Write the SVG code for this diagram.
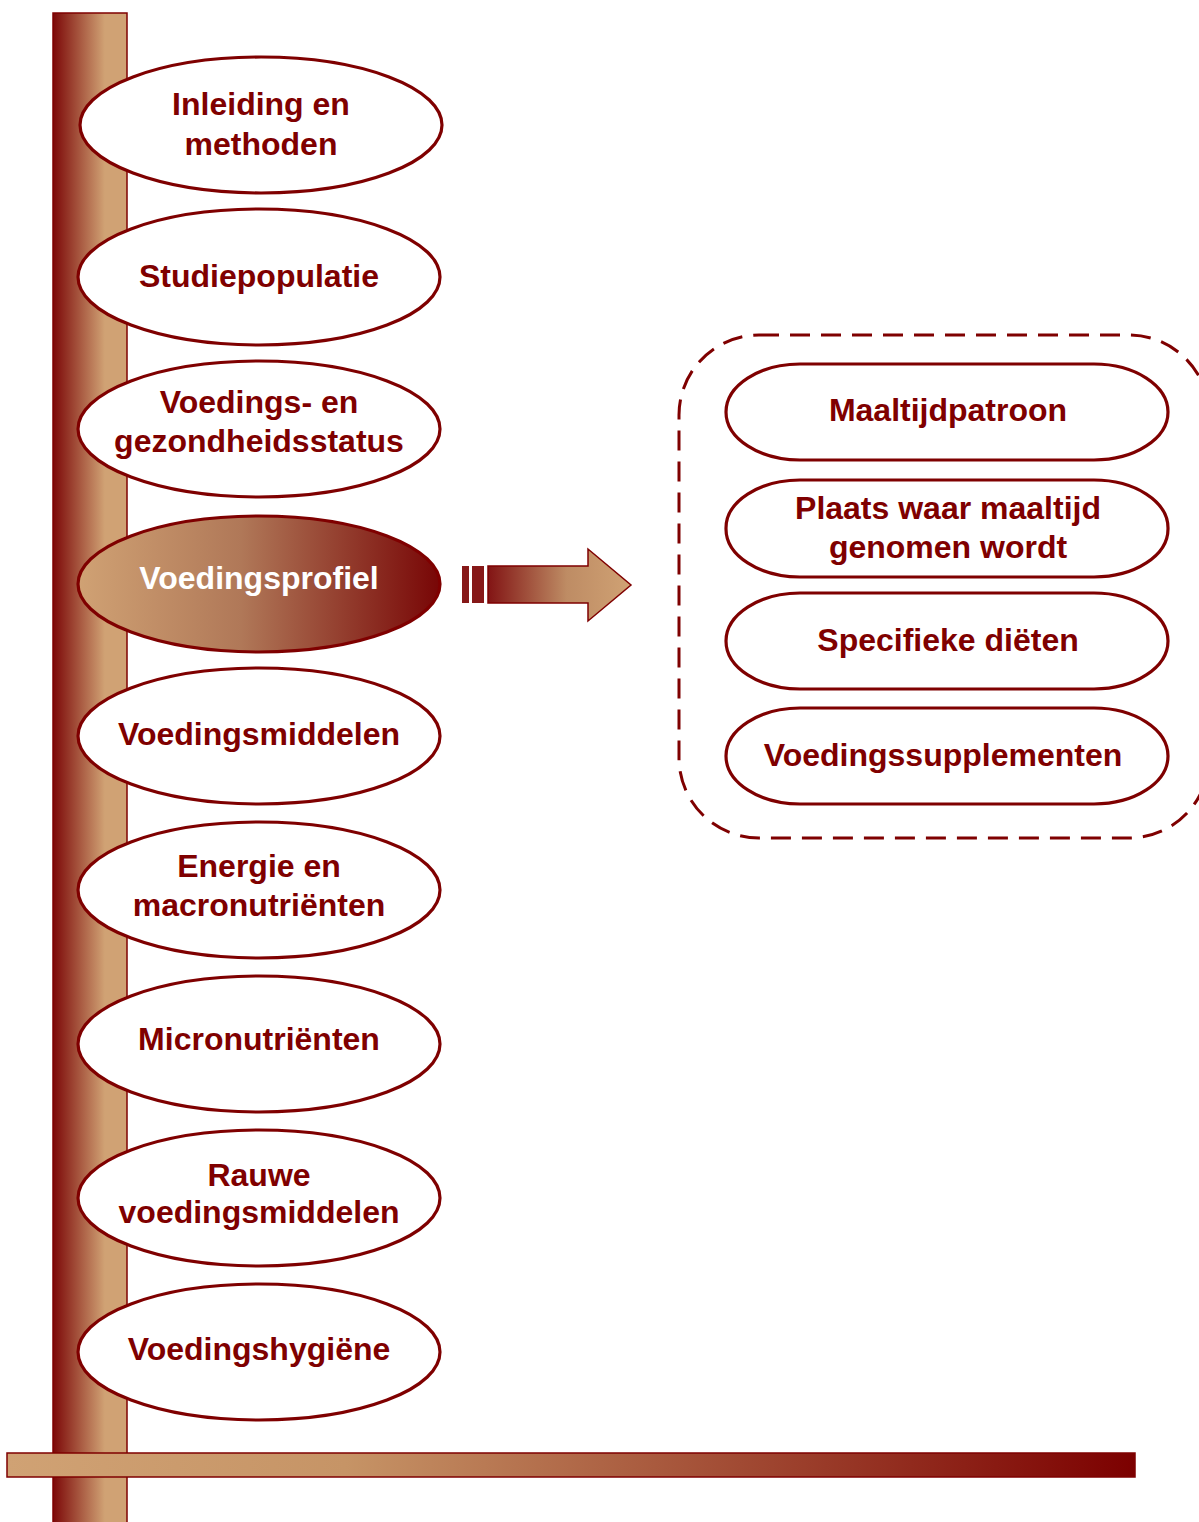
<svg xmlns="http://www.w3.org/2000/svg" width="1199" height="1522" viewBox="0 0 1199 1522">
<defs>
<linearGradient id="gV" x1="0" y1="0" x2="1" y2="0">
<stop offset="0" stop-color="#7c0808"/>
<stop offset="0.7" stop-color="#d0a274"/>
<stop offset="1" stop-color="#d0a274"/>
</linearGradient>
<linearGradient id="gH" x1="0" y1="0" x2="1" y2="0">
<stop offset="0" stop-color="#d0a274"/>
<stop offset="0.3" stop-color="#c69466"/>
<stop offset="1" stop-color="#7c0000"/>
</linearGradient>
<linearGradient id="gE" x1="0" y1="0" x2="1" y2="0">
<stop offset="0" stop-color="#d0a274"/>
<stop offset="0.45" stop-color="#b07858"/>
<stop offset="1" stop-color="#780606"/>
</linearGradient>
<linearGradient id="gA" x1="0" y1="0" x2="1" y2="0">
<stop offset="0" stop-color="#821414"/>
<stop offset="0.55" stop-color="#be8c64"/>
<stop offset="1" stop-color="#d0a274"/>
</linearGradient>
</defs>
<style>
.el{fill:#fff;stroke:#7f0000;stroke-width:3.2}
.pill{fill:#fff;stroke:#7f0000;stroke-width:3.2}
.t{font-family:"Liberation Sans",Arial,sans-serif;font-weight:bold;font-size:32px;fill:#7f0000;text-anchor:middle}
.w{fill:#fff}
</style>
<g id="axes">
<rect x="53" y="13" width="74" height="1520" fill="url(#gV)" stroke="#7f0000" stroke-width="1.5"/>
</g>
<g id="n1"><ellipse class="el" cx="261" cy="125" rx="181" ry="68"/><text class="t" x="261" y="115">Inleiding en</text><text class="t" x="261" y="155">methoden</text></g>
<g id="n2"><ellipse class="el" cx="259" cy="277" rx="181" ry="68"/><text class="t" x="259" y="287">Studiepopulatie</text></g>
<g id="n3"><ellipse class="el" cx="259" cy="429" rx="181" ry="68"/><text class="t" x="259" y="413">Voedings- en</text><text class="t" x="259" y="452">gezondheidsstatus</text></g>
<g id="n4"><ellipse cx="259" cy="584" rx="181" ry="68" fill="url(#gE)" stroke="#7f0000" stroke-width="3.2"/><text class="t w" x="259" y="589">Voedingsprofiel</text></g>
<g id="n5"><ellipse class="el" cx="259" cy="736" rx="181" ry="68"/><text class="t" x="259" y="745">Voedingsmiddelen</text></g>
<g id="n6"><ellipse class="el" cx="259" cy="890" rx="181" ry="68"/><text class="t" x="259" y="877">Energie en</text><text class="t" x="259" y="916">macronutriënten</text></g>
<g id="n7"><ellipse class="el" cx="259" cy="1044" rx="181" ry="68"/><text class="t" x="259" y="1050">Micronutriënten</text></g>
<g id="n8"><ellipse class="el" cx="259" cy="1198" rx="181" ry="68"/><text class="t" x="259" y="1186">Rauwe</text><text class="t" x="259" y="1223">voedingsmiddelen</text></g>
<g id="n9"><ellipse class="el" cx="259" cy="1352" rx="181" ry="68"/><text class="t" x="259" y="1360">Voedingshygiëne</text></g>
<g id="baseline">
<rect x="7" y="1453" width="1128" height="24" fill="url(#gH)" stroke="#7f0000" stroke-width="1.5"/>
</g>
<g id="connectors">
<rect x="462" y="566" width="7" height="37" fill="#861818"/>
<rect x="472" y="566" width="12" height="37" fill="#861818"/>
<path d="M488,566 H588 V549 L631,585 L588,621 V603 H488 Z" fill="url(#gA)" stroke="#7f0000" stroke-width="1.5"/>
</g>
<g id="group">
<rect x="679" y="335" width="530" height="503" rx="80" ry="80" fill="none" stroke="#7f0000" stroke-width="3" stroke-dasharray="20 11"/>
</g>
<g id="r1"><rect class="pill" x="726" y="364" width="442" height="96" rx="74" ry="48"/><text class="t" x="948" y="421">Maaltijdpatroon</text></g>
<g id="r2"><rect class="pill" x="726" y="480" width="442" height="97" rx="74" ry="48"/><text class="t" x="948" y="519">Plaats waar maaltijd</text><text class="t" x="948" y="558">genomen wordt</text></g>
<g id="r3"><rect class="pill" x="726" y="593" width="442" height="96" rx="74" ry="48"/><text class="t" x="948" y="651">Specifieke diëten</text></g>
<g id="r4"><rect class="pill" x="726" y="708" width="442" height="96" rx="74" ry="48"/><text class="t" x="943" y="766">Voedingssupplementen</text></g>
</svg>
